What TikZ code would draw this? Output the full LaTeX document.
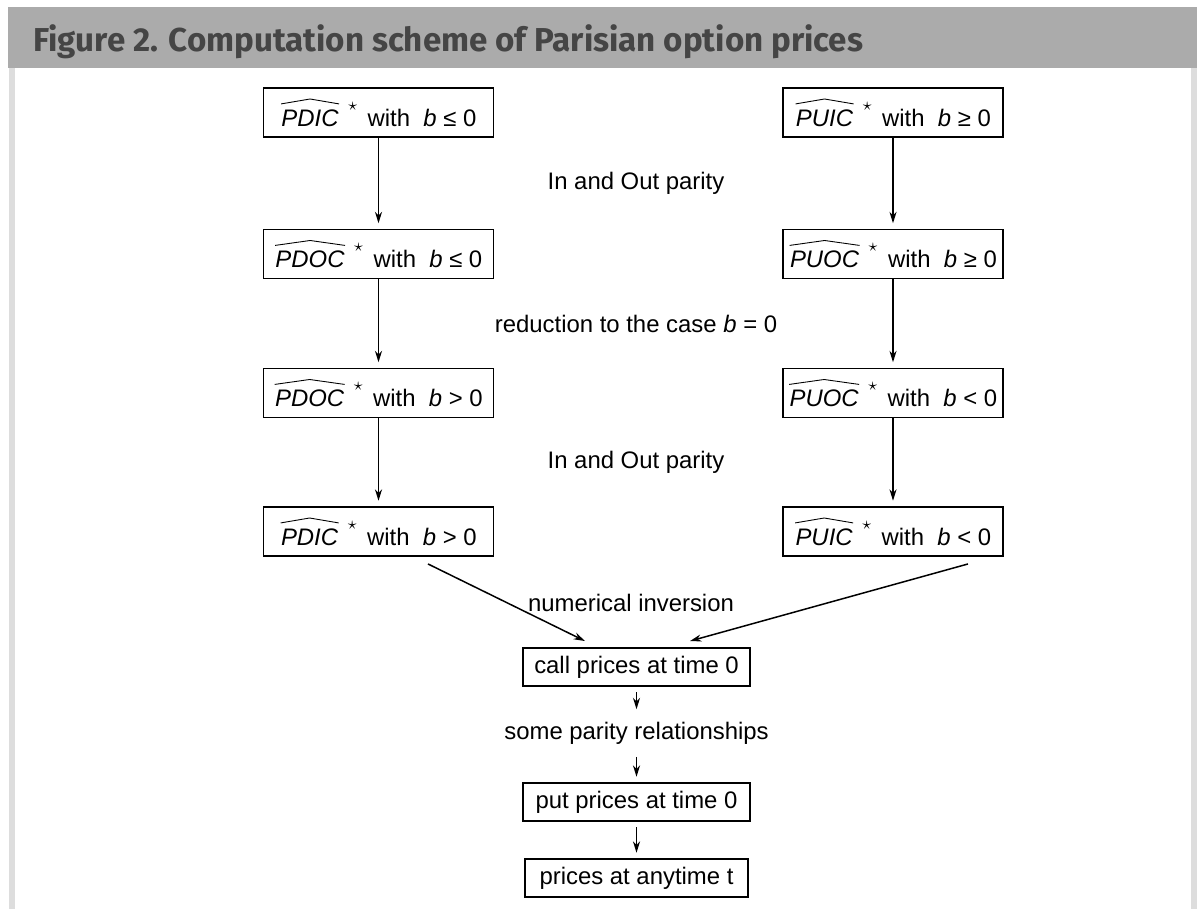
\documentclass[tikz,border=0pt]{standalone}
\usepackage{fontspec}
\setmainfont{Liberation Sans}
\newfontfamily\titlefont{Fira Sans}
\usepackage{xcolor}
\usetikzlibrary{positioning,calc,arrows.meta}

\definecolor{barGrey}{HTML}{ABABAB}
\definecolor{titleGrey}{HTML}{454545}
\definecolor{frameGrey}{HTML}{DDDDDD}

\tikzset{
  box/.style={draw, line width=1.1pt, minimum height=0.76cm, inner xsep=0pt, font=\fontsize{13.6}{16}\selectfont},
  hatbox/.style={box, minimum height=0.98cm},
  lab/.style={font=\fontsize{13.6}{16}\selectfont},
}

% wide hat over an italic name
\newcommand{\wh}[1]{\tikz[baseline=(hw.base)]{\node[inner sep=0pt, draw=none, minimum width=0pt, minimum height=0pt] (hw) {\textit{#1}};
  \draw[line width=0.5pt] ([yshift=3pt]hw.north west) -- ([yshift=5.8pt]hw.north) -- ([yshift=3pt]hw.north east);}}
\newcommand{\opt}[2]{\wh{#1}\hspace{5pt}\raisebox{9pt}{$\scriptstyle\star$}\hspace{6pt}with\ \ \textit{b} #2}

\begin{document}
\begin{tikzpicture}[x=0.02cm, y=-0.02cm, >={Stealth[length=6.5pt,width=4pt]}]
    \useasboundingbox (0,0) rectangle (1199,909);
    % frame and title bar
    \fill [frameGrey] (9,68) rectangle (15,909);
    \fill [frameGrey] (1191,68) rectangle (1197,909);
    \fill [barGrey] (8,7) rectangle (1197,68);
    \node [anchor=base west, inner sep=0pt, text=titleGrey, font=\titlefont\bfseries\fontsize{18.85}{21}\selectfont] (title) at (33,52) {Figure 2. Computation scheme of Parisian option prices};

    % left column
    \node [hatbox, minimum width=4.6cm] (pdicneg) at (378.5,112.5) {\opt{PDIC}{≤ 0}};
    \node [hatbox, minimum width=4.6cm] (pdocneg) at (378.5,254) {\opt{PDOC}{≤ 0}};
    \node [hatbox, minimum width=4.6cm] (pdocpos) at (378.5,393) {\opt{PDOC}{> 0}};
    \node [hatbox, minimum width=4.6cm] (pdicpos) at (378.5,531.5) {\opt{PDIC}{> 0}};

    % right column
    \node [hatbox, minimum width=4.4cm] (puicpos) at (893,112.5) {\opt{PUIC}{≥ 0}};
    \node [hatbox, minimum width=4.4cm] (puocpos) at (893,254) {\opt{PUOC}{≥ 0}};
    \node [hatbox, minimum width=4.4cm] (puocneg) at (893,393) {\opt{PUOC}{< 0}};
    \node [hatbox, minimum width=4.4cm] (puicneg) at (893,531.5) {\opt{PUIC}{< 0}};

    % labels between the columns
    \node [lab] (parityone) at (636,183) {In and Out parity};
    \node [lab] (reduction) at (636,323.5) {reduction to the case \textit{b} = 0};
    \node [lab] (paritytwo) at (636,462) {In and Out parity};
    \node [lab] (inversion) at (631,603) {numerical inversion};

    % bottom chain
    \node [box, minimum width=4.54cm] (callzero) at (636.5,667) {call prices at time 0};
    \node [lab, inner ysep=7pt] (parityrel) at (636.5,733) {some parity relationships};
    \node [box, minimum width=4.54cm] (putzero) at (636.5,802) {put prices at time 0};
    \node [box, minimum width=4.46cm] (anytime) at (636.5,878) {prices at anytime t};

    % arrows
    \foreach \a/\b in {pdicneg/pdocneg, pdocneg/pdocpos, pdocpos/pdicpos,
                       puicpos/puocpos, puocpos/puocneg, puocneg/puicneg}
      \draw [->, line width=0.85pt, shorten >=3pt] (\a) -- (\b);
    \draw [->, line width=0.85pt] ([xshift=0.99cm,yshift=-0.14cm]pdicpos.south) -- ([xshift=-1.03cm,yshift=0.12cm]callzero.north);
    \draw [->, line width=0.85pt] ([xshift=1.5cm,yshift=-0.14cm]puicneg.south) -- ([xshift=1.07cm,yshift=0.12cm]callzero.north);
    \draw [->, line width=0.85pt, shorten <=3pt] (callzero) -- (parityrel);
    \draw [->, line width=0.85pt, shorten >=3pt] (parityrel) -- (putzero);
    \draw [->, line width=0.85pt, shorten <=3pt, shorten >=3pt] (putzero) -- (anytime);
\end{tikzpicture}
\end{document}
